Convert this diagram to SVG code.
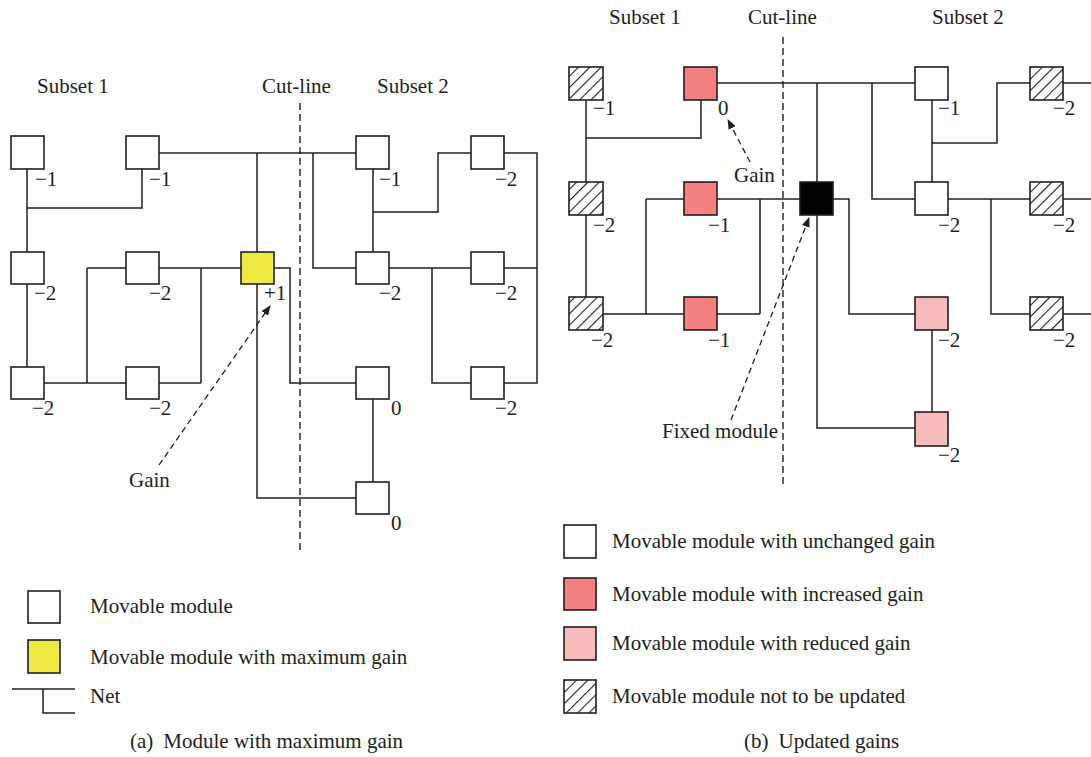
<svg xmlns="http://www.w3.org/2000/svg" width="1091" height="757" viewBox="0 0 1091 757">
<style>
text{font-family:"Liberation Serif","Times New Roman",serif;font-size:21px;fill:#231F20}
.w{fill:#fff;stroke:#231F20;stroke-width:1.6}
.y{fill:#EEE940;stroke:#231F20;stroke-width:1.6}
.r{fill:#F47F7F;stroke:#231F20;stroke-width:1.6}
.p{fill:#F8BBBC;stroke:#231F20;stroke-width:1.6}
.h{fill:url(#hatch);stroke:#231F20;stroke-width:1.6}
.k{fill:#000;stroke:#231F20;stroke-width:1.6}
.net{fill:none;stroke:#231F20;stroke-width:1.5}
.cut{fill:none;stroke:#231F20;stroke-width:1.4;stroke-dasharray:7 4}
.arr{fill:none;stroke:#231F20;stroke-width:1.3;stroke-dasharray:6 4;marker-end:url(#ah)}
</style>
<defs>
<pattern id="hatch" patternUnits="userSpaceOnUse" width="8" height="8" patternTransform="rotate(45)">
<rect width="8" height="8" fill="#fff"/>
<line x1="0" y1="0" x2="0" y2="8" stroke="#231F20" stroke-width="2.2"/>
</pattern>
<marker id="ah" markerWidth="10" markerHeight="8" refX="9" refY="4" orient="auto" markerUnits="userSpaceOnUse">
<path d="M0,0 L10,4 L0,8 z" fill="#231F20"/>
</marker>
</defs>

<g id="connectors">
<!-- left panel -->
<path class="net" d="M27,169V252M27,284V367M27,208H142V169"/>
<path class="net" d="M159,153H356M257,153V252M313,153V268H356"/>
<path class="net" d="M87,268H126M159,268H241M87,268V383M201,268V383M44,383H126M159,383H201"/>
<path class="net" d="M274,268H290V383H356"/>
<path class="net" d="M257,284V498H356"/>
<path class="net" d="M373,399V482"/>
<path class="net" d="M373,169V252M373,212H438V153H471M504,153H537V383H504M389,268H471M504,268H537M432,268V383H471"/>
<path class="cut" d="M300,103V552"/>
<path class="arr" d="M159,465L270,306"/>
<!-- right panel -->
<path class="net" d="M586,100V182M586,215V297M586,138H701V100"/>
<path class="net" d="M717,83H915M817,83V182M872,83V199H915"/>
<path class="net" d="M646,199H684M717,199H800M646,199V314M760,199V314M603,314H684M717,314H760"/>
<path class="net" d="M833,199H849V314H915"/>
<path class="net" d="M817,215V428H915"/>
<path class="net" d="M932,330V412"/>
<path class="net" d="M932,100V182M932,143H997V83H1030M1063,83H1091M948,199H1030M1063,199H1091M991,199V314H1030M1063,314H1091"/>
<path class="cut" d="M783,37V485"/>
<path class="arr" d="M750,162L728,120"/>
<path class="arr" d="M731,420L809,218"/>
</g>

<g id="panel-a-labels">
<text x="37" y="93">Subset 1</text>
<text x="262" y="93">Cut-line</text>
<text x="377" y="93">Subset 2</text>
<text x="129" y="487">Gain</text>
</g>

<g id="a-n1"><rect class="w" x="11" y="136" width="33" height="33"/><text x="35" y="186">−1</text></g>
<g id="a-n2"><rect class="w" x="126" y="136" width="33" height="33"/><text x="149" y="186">−1</text></g>
<g id="a-n3"><rect class="w" x="11" y="252" width="33" height="32"/><text x="34" y="300">−2</text></g>
<g id="a-n4"><rect class="w" x="126" y="252" width="33" height="32"/><text x="149" y="300">−2</text></g>
<g id="a-n5"><rect class="y" x="241" y="252" width="33" height="32"/><text x="264" y="300">+1</text></g>
<g id="a-n6"><rect class="w" x="11" y="367" width="33" height="32"/><text x="32" y="415">−2</text></g>
<g id="a-n7"><rect class="w" x="126" y="367" width="33" height="32"/><text x="149" y="415">−2</text></g>
<g id="a-n8"><rect class="w" x="356" y="136" width="33" height="33"/><text x="379" y="186">−1</text></g>
<g id="a-n9"><rect class="w" x="471" y="136" width="33" height="33"/><text x="495" y="186">−2</text></g>
<g id="a-n10"><rect class="w" x="356" y="252" width="33" height="32"/><text x="379" y="300">−2</text></g>
<g id="a-n11"><rect class="w" x="471" y="252" width="33" height="32"/><text x="495" y="300">−2</text></g>
<g id="a-n12"><rect class="w" x="356" y="367" width="33" height="32"/><text x="391" y="415">0</text></g>
<g id="a-n13"><rect class="w" x="471" y="367" width="33" height="32"/><text x="495" y="415">−2</text></g>
<g id="a-n14"><rect class="w" x="356" y="482" width="33" height="32"/><text x="391" y="530">0</text></g>

<g id="legend-a">
<rect class="w" x="28" y="591" width="32" height="32"/>
<text x="90" y="613">Movable module</text>
<rect class="y" x="28" y="640" width="32" height="33"/>
<text x="90" y="664">Movable module with maximum gain</text>
<path class="net" d="M12,689H75M43,689V713H75"/>
<text x="90" y="703">Net</text>
<text x="130" y="748">(a)<tspan dx="10">Module with maximum gain</tspan></text>
</g>

<g id="panel-b-labels">
<text x="609" y="24">Subset 1</text>
<text x="748" y="24">Cut-line</text>
<text x="932" y="24">Subset 2</text>
<text x="734" y="182">Gain</text>
<text x="662" y="438">Fixed module</text>
</g>

<g id="b-n1"><rect class="h" x="569" y="67" width="34" height="33"/><text x="593" y="115">−1</text></g>
<g id="b-n2"><rect class="r" x="684" y="67" width="33" height="33"/><text x="718" y="115">0</text></g>
<g id="b-n3"><rect class="w" x="915" y="67" width="33" height="33"/><text x="938" y="115">−1</text></g>
<g id="b-n4"><rect class="h" x="1030" y="67" width="33" height="33"/><text x="1053" y="115">−2</text></g>
<g id="b-n5"><rect class="h" x="569" y="182" width="34" height="33"/><text x="593" y="232">−2</text></g>
<g id="b-n6"><rect class="r" x="684" y="182" width="33" height="33"/><text x="708" y="232">−1</text></g>
<g id="b-fixed"><rect class="k" x="800" y="182" width="33" height="33"/></g>
<g id="b-n7"><rect class="w" x="915" y="182" width="33" height="33"/><text x="938" y="232">−2</text></g>
<g id="b-n8"><rect class="h" x="1030" y="182" width="33" height="33"/><text x="1053" y="232">−2</text></g>
<g id="b-n9"><rect class="h" x="569" y="297" width="34" height="33"/><text x="591" y="347">−2</text></g>
<g id="b-n10"><rect class="r" x="684" y="297" width="33" height="33"/><text x="708" y="347">−1</text></g>
<g id="b-n11"><rect class="p" x="915" y="297" width="33" height="33"/><text x="938" y="347">−2</text></g>
<g id="b-n12"><rect class="h" x="1030" y="297" width="33" height="33"/><text x="1053" y="347">−2</text></g>
<g id="b-n13"><rect class="p" x="915" y="412" width="33" height="34"/><text x="938" y="462">−2</text></g>

<g id="legend-b">
<rect class="w" x="564" y="525" width="32" height="33"/>
<text x="612" y="548">Movable module with unchanged gain</text>
<rect class="r" x="564" y="578" width="32" height="32"/>
<text x="612" y="601">Movable module with increased gain</text>
<rect class="p" x="564" y="627" width="32" height="33"/>
<text x="612" y="650">Movable module with reduced gain</text>
<rect class="h" x="564" y="680" width="32" height="33"/>
<text x="612" y="703">Movable module not to be updated</text>
<text x="744" y="748">(b)<tspan dx="10">Updated gains</tspan></text>
</g>
</svg>
